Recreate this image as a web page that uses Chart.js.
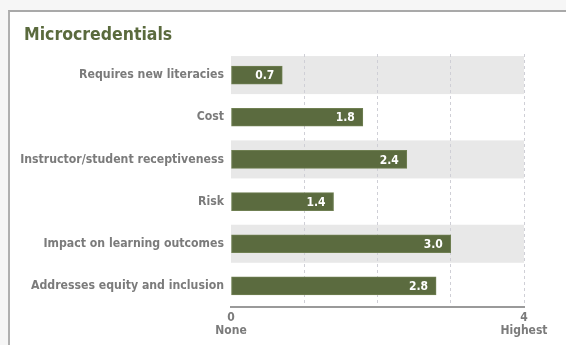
<!DOCTYPE html>
<html>
<head>
<meta charset="utf-8">
<script src="https://cdn.jsdelivr.net/npm/chart.js@4.4.1/dist/chart.umd.min.js"></script>
<style>
  html, body { margin: 0; padding: 0; overflow: hidden; }
  body { width: 566px; height: 345px; background: #f6f6f6; position: relative; }
  #frame { position: absolute; left: 8px; top: 10px; width: 558px; height: 335px; background: #ffffff;
           border-top: 2px solid #a9a9a9; border-left: 2px solid #b0b0b0; box-sizing: border-box; }
  #wrap { position: absolute; left: 0; top: 0; width: 566px; height: 345px; }
</style>
</head>
<body>
<div id="frame"></div>
<div id="wrap"><canvas id="c" width="566" height="345"></canvas></div>
<script>
const chartTitle = 'Microcredentials';
const categories = [
  'Requires new literacies',
  'Cost',
  'Instructor/student receptiveness',
  'Risk',
  'Impact on learning outcomes',
  'Addresses equity and inclusion'
];
const values = [0.7, 1.8, 2.4, 1.4, 3.0, 2.8];
const axisMin = 0;
const axisMax = 4;
const tickLabels = { 0: ['0', 'None'], 4: ['4', 'Highest'] };

const FONT = '"DejaVu Sans Condensed", "DejaVu Sans", sans-serif';
const GREEN = '#5b6b3f';
const GRAYTXT = '#7b7b7b';

const bandPlugin = {
  id: 'bands',
  beforeDraw(chart) {
    const { ctx, chartArea, scales } = chart;
    const y = scales.y;
    ctx.save();
    ctx.fillStyle = '#e8e8e8';
    categories.forEach((c, i) => {
      if (i % 2 === 0) {
        const cy = y.getPixelForValue(i);
        ctx.fillRect(chartArea.left, cy - 19, chartArea.right - chartArea.left, 38);
      }
    });
    ctx.restore();
  }
};

const titlePlugin = {
  id: 'customTitle',
  afterDraw(chart) {
    const ctx = chart.ctx;
    ctx.save();
    ctx.font = 'bold 17.5px ' + FONT;
    ctx.fillStyle = '#5a6a3d';
    ctx.textBaseline = 'middle';
    ctx.textAlign = 'left';
    ctx.fillText(chartTitle, 24, 35);
    ctx.restore();
  }
};

const valuePlugin = {
  id: 'values',
  afterDatasetsDraw(chart) {
    const ctx = chart.ctx;
    const meta = chart.getDatasetMeta(0);
    ctx.save();
    ctx.font = 'bold 12px ' + FONT;
    ctx.fillStyle = '#ffffff';
    ctx.textAlign = 'right';
    ctx.textBaseline = 'middle';
    meta.data.forEach((bar, i) => {
      ctx.fillText(values[i].toFixed(1), bar.x - 8, bar.y + 1);
    });
    ctx.restore();
  }
};

new Chart(document.getElementById('c'), {
  type: 'bar',
  data: {
    labels: categories,
    datasets: [{
      data: values,
      backgroundColor: GREEN,
      borderColor: '#6f7f52',
      borderWidth: 1,
      borderSkipped: false,
      barThickness: 18
    }]
  },
  options: {
    indexAxis: 'y',
    responsive: false,
    animation: false,
    devicePixelRatio: 1,
    layout: { padding: { left: 0, right: 42, top: 54, bottom: 0 } },
    plugins: {
      legend: { display: false },
      title: { display: false },
      tooltip: { enabled: false }
    },
    scales: {
      x: {
        min: axisMin,
        max: axisMax,
        ticks: {
          stepSize: 1,
          autoSkip: false,
          maxRotation: 0,
          padding: 4,
          color: GRAYTXT,
          font: { family: FONT, size: 12, weight: 'bold', lineHeight: 1.1 },
          callback: (v) => tickLabels[v] ? tickLabels[v] : ''
        },
        grid: {
          drawTicks: false,
          color: (ctx) => (ctx.tick && ctx.tick.value === 0) ? 'rgba(0,0,0,0)' : '#cfcfd6',
          lineWidth: 1,
          tickLength: 0
        },
        border: { display: true, color: '#9a9a9a', width: 2, dash: [3, 3], dashOffset: 0 },
        afterFit(scale) { scale.height = 38; }
      },
      y: {
        ticks: {
          padding: 7,
          color: GRAYTXT,
          font: { family: FONT, size: 12.2, weight: 'bold' }
        },
        grid: { display: false, drawTicks: false },
        border: { display: false },
        afterFit(scale) { scale.width = 231; }
      }
    }
  },
  plugins: [bandPlugin, valuePlugin, titlePlugin]
});
</script>
</body>
</html>
